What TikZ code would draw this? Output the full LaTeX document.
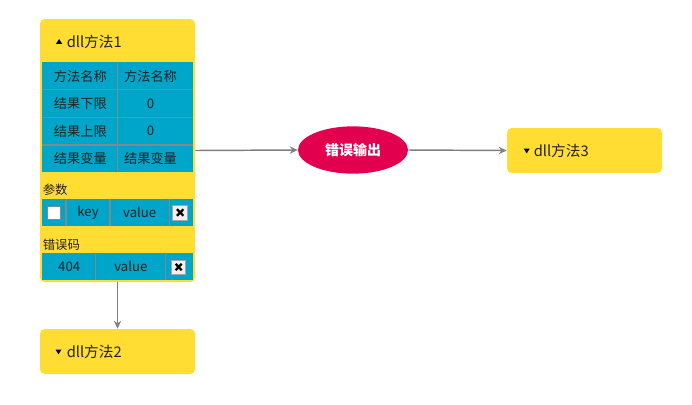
\documentclass[tikz,border=0pt]{standalone}
\usepackage{fontspec}
\setmainfont{Noto Sans CJK SC}
\usetikzlibrary{shapes.geometric,fit,arrows.meta}
\definecolor{ybg}{HTML}{FFDD33}
\definecolor{tbl}{HTML}{00A6CA}
\definecolor{gridc}{HTML}{7D8B90}
\definecolor{emph}{HTML}{E2004E}
\definecolor{connc}{HTML}{808080}
\definecolor{txt}{HTML}{222222}
\begin{document}
\begin{tikzpicture}[x=0.75pt,y=-0.75pt,
  ybox/.style={fill=ybg, rounded corners=3.5pt, inner sep=0pt},
  gline/.style={draw=gridc, line width=0.8pt},
  ctext/.style={font=\fontsize{9.9pt}{11pt}\selectfont, text=txt, inner sep=0pt},
  ttext/.style={font=\fontsize{11pt}{12pt}\selectfont, text=txt, anchor=west, inner sep=0pt},
  ltext/.style={font=\fontsize{9.3pt}{11pt}\selectfont, text=txt, anchor=west, inner sep=0pt},
  connline/.style={draw=connc, line width=1.1pt, -{Stealth[length=6pt,width=5.5pt,inset=2pt]}},
  xbox/.style={fill=gray!12, draw=gray!70, line width=0.6pt},
  tri/.style={fill=black}
]
\useasboundingbox (0,0) rectangle (692,404);

% boxes
\node[ybox, fit={(40,19)(195,282)}] (m1) {};
\node[ybox, fit={(40,329)(195,374)}] (m2) {};
\node[ybox, fit={(507,128)(662,173)}] (m3) {};
\node[ellipse, fill=emph, minimum width=82.5pt, minimum height=35.5pt, inner sep=0pt,
      font=\fontsize{10.5pt}{12pt}\selectfont\bfseries, text=white] (err) at (353,150) {错误输出};

% titles
\fill[tri] (56,43.8) -- (62.2,43.8) -- (59.1,39) -- cycle;
\node[ttext] (t1) at (66.5,41.5) {dll方法1};
\fill[tri] (55.5,349.5) -- (61.5,349.5) -- (58.5,354.3) -- cycle;
\node[ttext] (t2) at (66.5,351.5) {dll方法2};
\fill[tri] (523.7,148.6) -- (529.7,148.6) -- (526.7,153.4) -- cycle;
\node[ttext] (t3) at (533.5,150.5) {dll方法3};

% main table
\fill[tbl] (42,62) rectangle (193,172);
\draw[gline] (42,89.7) -- (193,89.7);
\draw[gline] (42,117.3) -- (193,117.3);
\draw[gline] (42,145) -- (193,145);
\draw[gline] (117.3,62) -- (117.3,172);
\node[ctext] (a1) at (80.3,76) {方法名称};
\node[ctext] (b1) at (150.5,76) {方法名称};
\node[ctext] (a2) at (80.3,103.5) {结果下限};
\node[ctext] (b2) at (150.5,103.5) {0};
\node[ctext] (a3) at (80.3,131) {结果上限};
\node[ctext] (b3) at (150.5,131) {0};
\node[ctext] (a4) at (80.3,158.5) {结果变量};
\node[ctext] (b4) at (150.5,158.5) {结果变量};

% parameters
\node[ltext] (lp) at (42.5,190) {参数};
\fill[tbl] (42,199) rectangle (192.5,226);
\draw[gline] (66,199) -- (66,226);
\draw[gline] (110,199) -- (110,226);
\draw[gline] (169.3,199) -- (169.3,226);
\filldraw[fill=white, draw=gridc, line width=0.5pt] (47.3,206.5) rectangle (60.7,219.3);
\node[ctext] (pk) at (88,212.5) {key};
\node[ctext] (pv) at (139.7,212.5) {value};
\filldraw[xbox] (172.7,205) rectangle (187.7,220);
\draw[line width=1.7pt] (177,209.2) -- (183.4,215.8) (183.4,209.2) -- (177,215.8);

% error code
\node[ltext] (le) at (42.5,245) {错误码};
\fill[tbl] (42,253.3) rectangle (192.5,279.5);
\draw[gline] (95.7,253.3) -- (95.7,279.5);
\draw[gline] (165.5,253.3) -- (165.5,279.5);
\node[ctext] (ec) at (69.2,266.5) {404};
\node[ctext] (ev) at (130.8,266.5) {value};
\filldraw[xbox] (171.7,260) rectangle (185.7,274);
\draw[line width=1.7pt] (175.7,263.8) -- (181.7,270.2) (181.7,263.8) -- (175.7,270.2);

% connectors
\draw[connline] (m1.east) -- (err.west);
\draw[connline] (err.east) -- (m3.west);
\draw[connline] (m1.south) -- (m2.north);
\end{tikzpicture}
\end{document}
